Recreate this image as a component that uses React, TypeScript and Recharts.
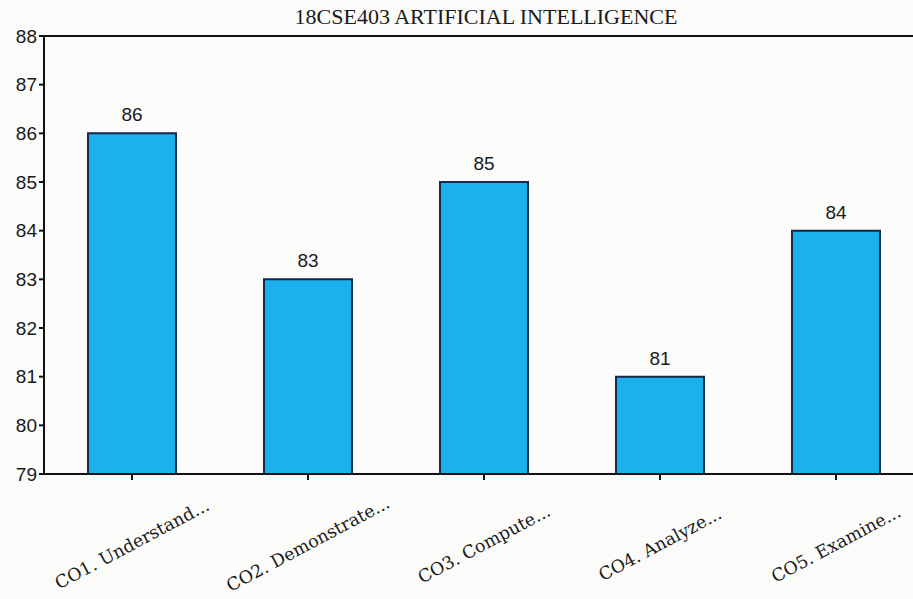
import { BarChart, Bar, XAxis, YAxis, LabelList, ReferenceLine } from 'recharts'

const courseOutcomes = [
  'CO1. Understand...',
  'CO2. Demonstrate...',
  'CO3. Compute...',
  'CO4. Analyze...',
  'CO5. Examine...',
]
const attainment = [86, 83, 85, 81, 84]
const yTicks = [79, 80, 81, 82, 83, 84, 85, 86, 87, 88]

const data = courseOutcomes.map((name, i) => ({ name, value: attainment[i] }))

// rotated category label, centred under its tick like the original export
const SlantTick = (props: any) => {
  const { x, y, payload } = props
  const cy = y + 62
  return (
    <text
      x={x}
      y={cy}
      textAnchor="middle"
      dominantBaseline="central"
      transform={`rotate(-28, ${x}, ${cy})`}
      fontFamily="'DejaVu Serif', serif"
      fontSize={17.5}
      fill="#1a1a1a"
    >
      {payload.value}
    </text>
  )
}

export default function App() {
  return (
    <div style={{ position: 'absolute', left: 0, top: 0, width: 932, height: 599, background: '#fbfbf9' }}>
      <div
        style={{
          position: 'absolute',
          left: 0,
          width: 972,
          top: 4,
          textAlign: 'center',
          fontFamily: "'Liberation Serif', serif",
          fontSize: 22,
          color: '#1a1a1a',
        }}
      >
        18CSE403 ARTIFICIAL INTELLIGENCE
      </div>
      <BarChart
        width={932}
        height={599}
        data={data}
        margin={{ top: 36, right: 8, left: 0, bottom: 10 }}
        barCategoryGap="25%"
      >
        <XAxis
          dataKey="name"
          height={115}
          interval={0}
          tick={<SlantTick />}
          axisLine={{ stroke: '#111', strokeWidth: 2 }}
          tickLine={{ stroke: '#111', strokeWidth: 2 }}
          tickSize={6}
        />
        <YAxis
          width={44}
          domain={[79, 88]}
          ticks={yTicks}
          interval={0}
          allowDataOverflow
          tick={{ fill: '#1a1a1a', fontSize: 19, fontFamily: "'Liberation Sans', sans-serif" }}
          axisLine={{ stroke: '#111', strokeWidth: 2 }}
          tickLine={{ stroke: '#111', strokeWidth: 2 }}
          tickSize={5}
        />
        <ReferenceLine y={88} stroke="#111" strokeWidth={2} />
        <Bar dataKey="value" fill="#1cb0ec" stroke="#16284a" strokeWidth={2} isAnimationActive={false}>
          <LabelList
            dataKey="value"
            position="top"
            offset={12}
            fill="#1a1a1a"
            fontSize={19}
            fontFamily="'Liberation Sans', sans-serif"
          />
        </Bar>
      </BarChart>
    </div>
  )
}
